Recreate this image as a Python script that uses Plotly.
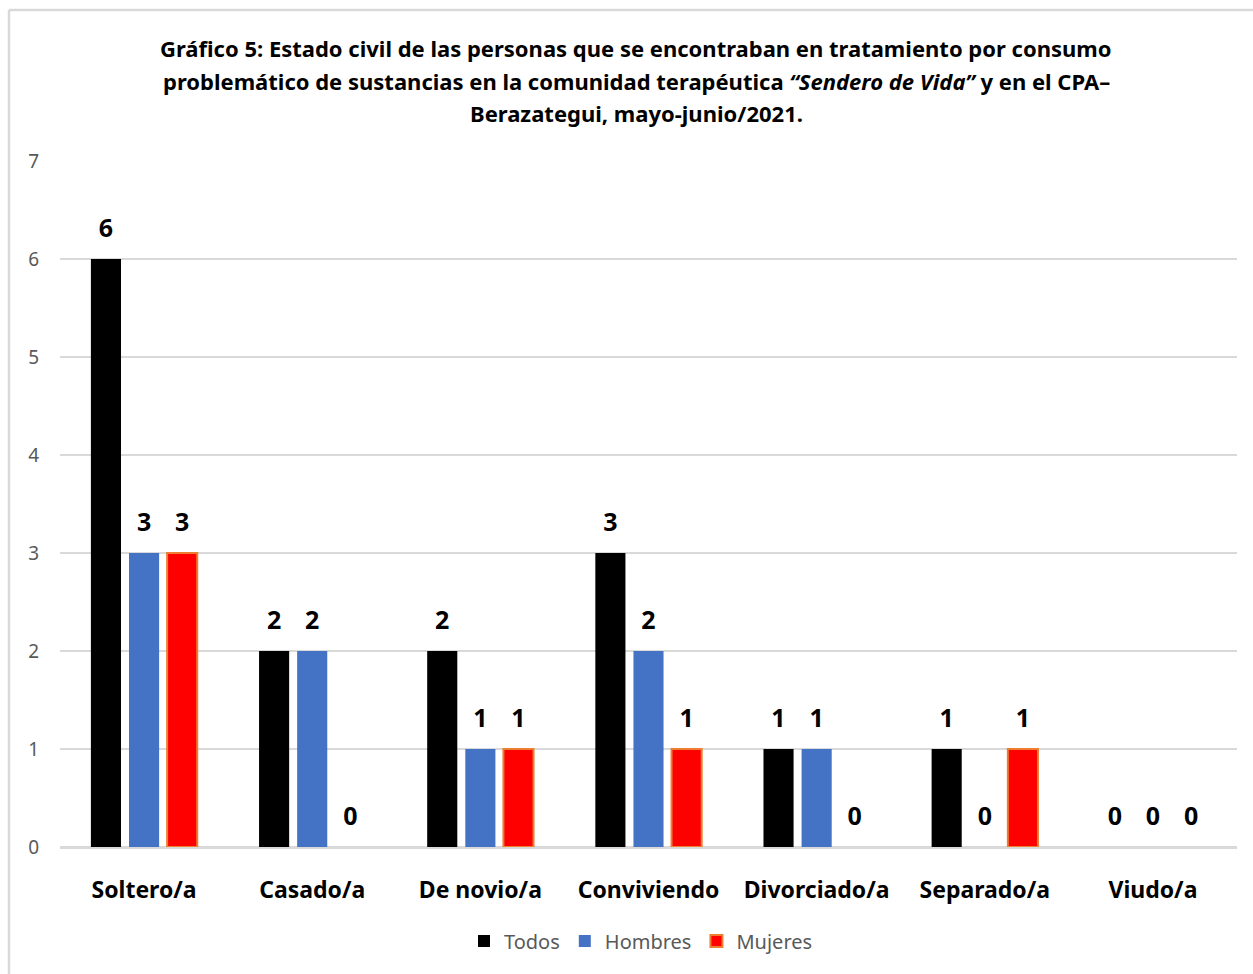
import plotly.graph_objects as go

# Categorías de estado civil y conteos por grupo
categorias = ["Soltero/a", "Casado/a", "De novio/a", "Conviviendo",
              "Divorciado/a", "Separado/a", "Viudo/a"]
todos = [6, 2, 2, 3, 1, 1, 0]
hombres = [3, 2, 1, 2, 1, 0, 0]
mujeres = [3, 0, 1, 1, 0, 1, 0]
y_ticks = [0, 1, 2, 3, 4, 5, 6, 7]

titulo = [
    "Gráfico 5: Estado civil de las personas que se encontraban en tratamiento por consumo",
    "problemático de sustancias en la comunidad terapéutica <i>“Sendero de Vida”</i> y en el CPA–",
    "Berazategui, mayo-junio/2021.",
]

W, H = 1253, 974
ML, MR, MT, MB = 60, 16, 161, 127
PW, PH = W - ML - MR, H - MT - MB

FONT = "Noto Sans"


def px_x(p):
    return (p - ML) / PW


def px_y(p):
    return (H - MB - p) / PH


series = [
    ("Todos", todos, "#000000", "#000000", 0),
    ("Hombres", hombres, "#4472C4", "#4472C4", 0),
    ("Mujeres", mujeres, "#FF0000", "#ED7D31", 2),
]

fig = go.Figure()
for i, (nombre, valores, color, borde, ancho) in enumerate(series):
    fig.add_trace(go.Bar(
        name=nombre, x=categorias, y=valores, offsetgroup=str(i),
        marker=dict(color=color,
                    line=dict(color=borde,
                              width=[ancho if v > 0 else 0 for v in valores])),
    ))
# Etiquetas de valor sobre cada barra
for i, (nombre, valores, color, borde, ancho) in enumerate(series):
    fig.add_trace(go.Scatter(
        x=categorias, y=valores, offsetgroup=str(i), mode="markers+text",
        marker=dict(size=24, opacity=0), text=[str(v) for v in valores],
        textposition="top center",
        textfont=dict(family=FONT, size=25, color="black", weight="bold"),
        showlegend=False, hoverinfo="skip", cliponaxis=False,
    ))

# Marco exterior del gráfico
borde = dict(type="line", xref="paper", yref="paper",
             line=dict(color="#d9d9d9", width=2.5))
fig.add_shape(**borde, x0=px_x(9), x1=px_x(1253), y0=px_y(10), y1=px_y(10))
fig.add_shape(**borde, x0=px_x(9), x1=px_x(9), y0=px_y(10), y1=px_y(974))

# Título en tres líneas
for linea, yc in zip(titulo, [48, 81, 113]):
    fig.add_annotation(
        text=f"<b>{linea}</b>", xref="paper", yref="paper",
        x=px_x(636), y=px_y(yc), xanchor="center", yanchor="middle",
        showarrow=False,
        font=dict(family=FONT, size=22, color="black"),
    )

fig.update_layout(
    width=W, height=H,
    margin=dict(l=ML, r=MR, t=MT, b=MB),
    paper_bgcolor="white", plot_bgcolor="white",
    barmode="group", bargap=0.32, bargroupgap=0.21,
    scattermode="group", scattergap=0.32,
    font=dict(family=FONT),
    xaxis=dict(
        showgrid=False, showline=True, linecolor="#d9d9d9", linewidth=1.5,
        tickfont=dict(family=FONT, size=23, color="black", weight="bold"),
        ticklabelstandoff=22,
    ),
    yaxis=dict(
        range=[0, 7], tickvals=y_ticks, showgrid=True,
        gridcolor="#d9d9d9", gridwidth=1.5, zeroline=True,
        zerolinecolor="#d9d9d9", zerolinewidth=1.5,
        tickfont=dict(family=FONT, size=19, color="#595959"),
        ticklabelstandoff=20,
    ),
    legend=dict(
        orientation="h", x=px_x(641), xanchor="center",
        y=px_y(941), yanchor="middle",
        font=dict(family=FONT, size=20, color="#595959"),
        itemwidth=30, traceorder="normal",
    ),
)

fig.write_html("out.html")
